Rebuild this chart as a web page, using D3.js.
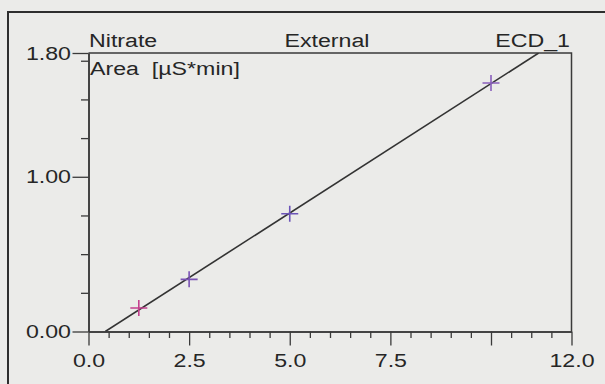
<!DOCTYPE html>
<html>
<head>
<meta charset="utf-8">
<script src="https://cdn.jsdelivr.net/npm/d3@7"></script>
<style>
  html, body { margin: 0; padding: 0; background: #ebebe9; }
  svg { display: block; }
  text { font-family: "Liberation Sans", Arial, sans-serif; fill: #262626; }
</style>
</head>
<body>
<svg id="chart" width="605" height="384"></svg>
<script>
// ---- data ----
const amounts = [1.25, 2.5, 5.0, 10.0];
const areas = [0.152, 0.337, 0.761, 1.606];
const pointColors = ["#c4408e", "#7a52b4", "#6c54b8", "#8a60bc"];
const fitSlope = 0.1672;
const fitOffset = -0.0698;
const xDomain = [0, 12];
const yDomain = [0, 1.8];
const xMajorTicks = [0, 2.5, 5, 7.5, 10, 12];
const xTickLabels = ["0.0", "2.5", "5.0", "7.5", "", "12.0"];
const xMinorTicks = [0.5, 1, 1.5, 2, 3, 3.5, 4, 4.5, 5.5, 6, 6.5, 7, 8, 8.5, 9, 9.5, 10.5, 11, 11.5];
const yMajorTicks = [0, 1, 1.8];
const yTickLabels = ["0.00", "1.00", "1.80"];
const yMinorTicks = [0.25, 0.5, 0.75, 1.25, 1.5, 1.75];
const titleLeft = "Nitrate";
const titleMid = "External";
const titleRight = "ECD_1";
const yAxisTitle = "Area  [µS*min]";

// ---- layout ----
const svg = d3.select("#chart");
const pLeft = 88.5, pRight = 571.5, pTop = 53, pBottom = 331.5;
const x = d3.scaleLinear().domain(xDomain).range([pLeft, pRight]);
const y = d3.scaleLinear().domain(yDomain).range([pBottom, pTop]);
const axisColor = "#3a3a3a";
const fs = 19, sx = 1.22;

// outer frame
svg.append("path")
  .attr("d", "M8,384 L8,12 L605,12")
  .attr("fill", "none").attr("stroke", "#2e2e2e").attr("stroke-width", 2);

// plot box (top and right)
svg.append("path")
  .attr("d", `M${x(xDomain[0])},${y(yDomain[1])} L${x(xDomain[1])},${y(yDomain[1])} L${x(xDomain[1])},${y(yDomain[0])}`)
  .attr("fill", "none").attr("stroke", axisColor).attr("stroke-width", 1.5);

function styleAxis(g) {
  g.select(".domain").attr("stroke", axisColor).attr("stroke-width", 1.5);
  g.selectAll(".tick line").attr("stroke", axisColor).attr("stroke-width", 1.3);
  g.selectAll(".tick text")
    .attr("font-family", "'Liberation Sans', Arial, sans-serif")
    .attr("font-size", fs).attr("fill", "#262626");
}

// x axis minor
svg.append("g").attr("transform", `translate(0,${pBottom})`)
  .call(d3.axisBottom(x).tickValues(xMinorTicks).tickSize(6.5).tickSizeOuter(0).tickFormat(""))
  .call(styleAxis);
// x axis major
svg.append("g").attr("transform", `translate(0,${pBottom})`)
  .call(d3.axisBottom(x).tickValues(xMajorTicks).tickSize(14).tickSizeOuter(0).tickPadding(8)
    .tickFormat((d, i) => xTickLabels[i]))
  .call(styleAxis)
  .call(g => g.selectAll(".tick text").attr("transform", `scale(${sx},1)`));

// y axis minor
svg.append("g").attr("transform", `translate(${pLeft},0)`)
  .call(d3.axisLeft(y).tickValues(yMinorTicks).tickSize(7.5).tickSizeOuter(0).tickFormat(""))
  .call(styleAxis);
// y axis major
svg.append("g").attr("transform", `translate(${pLeft},0)`)
  .call(d3.axisLeft(y).tickValues(yMajorTicks).tickSize(16).tickSizeOuter(0).tickPadding(1.5)
    .tickFormat((d, i) => yTickLabels[i]))
  .call(styleAxis)
  .call(g => g.selectAll(".tick text").attr("x", -17.5 / sx).attr("transform", `scale(${sx},1)`));

// titles
function label(px, py, anchor, txt) {
  return svg.append("text")
    .attr("transform", `translate(${px},${py}) scale(${sx},1)`)
    .attr("font-size", fs).attr("text-anchor", anchor)
    .style("white-space", "pre").text(txt);
}
label(89, 47, "start", titleLeft);
label(327, 47, "middle", titleMid);
label(570, 47, "end", titleRight);
label(90, 75, "start", yAxisTitle);

// calibration line clipped to plot
svg.append("clipPath").attr("id", "clip")
  .append("rect").attr("x", pLeft).attr("y", pTop).attr("width", pRight - pLeft).attr("height", pBottom - pTop);
const xStart = (yDomain[0] - fitOffset) / fitSlope;
const xEnd = (yDomain[1] - fitOffset) / fitSlope;
svg.append("line")
  .attr("clip-path", "url(#clip)")
  .attr("x1", x(xStart)).attr("y1", y(yDomain[0]))
  .attr("x2", x(xEnd)).attr("y2", y(yDomain[1]))
  .attr("stroke", "#333").attr("stroke-width", 1.6);

// points as plus markers
const pts = svg.append("g");
amounts.forEach((a, i) => {
  const cx = x(a), cy = y(areas[i]);
  pts.append("path")
    .attr("d", `M${cx - 8.5},${cy} L${cx + 8.5},${cy} M${cx},${cy - 8} L${cx},${cy + 8}`)
    .attr("stroke", pointColors[i]).attr("stroke-width", 1.6).attr("fill", "none");
});
</script>
</body>
</html>
